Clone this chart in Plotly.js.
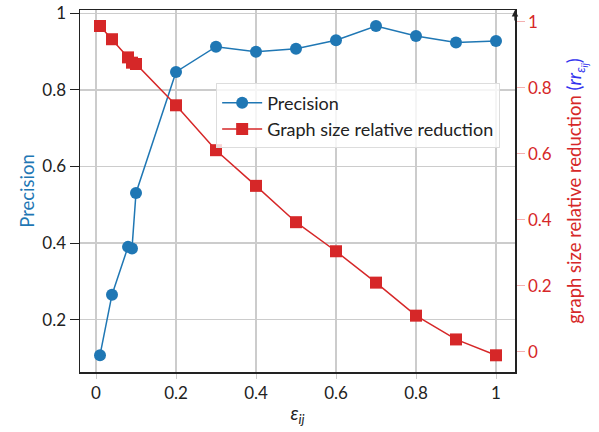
<!DOCTYPE html>
<html><head><meta charset="utf-8">
<script src="https://cdn.plot.ly/plotly-3.0.1.min.js"></script>
<style>html,body{margin:0;padding:0;background:#fff}</style>
</head><body><div id="chart" style="width:599px;height:432px"></div>
<script>
const epsilon = [0.01, 0.04, 0.08, 0.09, 0.1, 0.2, 0.3, 0.4, 0.5, 0.6, 0.7, 0.8, 0.9, 1.0];
const precision = [0.107, 0.265, 0.390, 0.386, 0.531, 0.847, 0.913, 0.900, 0.908, 0.930, 0.967, 0.941, 0.924, 0.928];
const reduction = [0.987, 0.947, 0.892, 0.876, 0.872, 0.747, 0.611, 0.503, 0.393, 0.305, 0.210, 0.110, 0.038, -0.010];
const xTicks = [0, 0.2, 0.4, 0.6, 0.8, 1];
const xTickText = ['0', '0.2', '0.4', '0.6', '0.8', '1'];
const yTicks = [0.2, 0.4, 0.6, 0.8, 1];
const yTickText = ['0.2', '0.4', '0.6', '0.8', '1'];
const y2Ticks = [0, 0.2, 0.4, 0.6, 0.8, 1];
const y2TickText = ['0', '0.2', '0.4', '0.6', '0.8', '1'];

const blue = '#1f77b4', red = '#d62728';
const font = 'Lato, "Open Sans", sans-serif';

const traces = [
  {x: epsilon, y: precision, name: 'Precision', mode: 'lines+markers',
   line: {color: blue, width: 1.5}, marker: {symbol: 'circle', size: 12, color: blue}},
  {x: epsilon, y: reduction, name: 'Graph size relative reduction', mode: 'lines+markers', yaxis: 'y2',
   line: {color: red, width: 1.5}, marker: {symbol: 'square', size: 12, color: red}}
];

const layout = {
  width: 599, height: 432,
  margin: {l: 80, r: 84, t: 10, b: 60},
  paper_bgcolor: '#fff', plot_bgcolor: '#fff',
  font: {family: font, size: 17, color: '#222'},
  showlegend: true,
  legend: {x: 0.313, y: 0.797, xanchor: 'left', yanchor: 'top', bgcolor: 'rgba(255,255,255,0.8)',
           bordercolor: '#dddddd', borderwidth: 1, font: {size: 18, color: '#222'}, tracegroupgap: 0,
           itemwidth: 40},
  xaxis: {range: [-0.04, 1.0475], tickvals: xTicks, ticktext: xTickText,
          showgrid: true, gridcolor: '#cccccc', gridwidth: 1.5,
          showline: true, linecolor: '#222', linewidth: 1.5, mirror: true,
          ticks: 'outside', ticklen: 5, tickcolor: '#cccccc', zeroline: false,
          title: {text: '<i>ε<sub>ij</sub></i>', font: {size: 19, color: '#222'}, standoff: 5}},
  yaxis: {range: [0.063, 1.009], tickvals: yTicks, ticktext: yTickText,
          showgrid: true, gridcolor: '#cccccc', gridwidth: 1.5,
          showline: true, linecolor: '#222', linewidth: 1.5,
          ticks: 'outside', ticklen: 9, tickcolor: '#222', zeroline: false,
          title: {text: 'Precision', font: {size: 18.5, color: blue}, standoff: 3}},
  yaxis2: {overlaying: 'y', side: 'right', range: [-0.0606, 1.0355], tickvals: y2Ticks, ticktext: y2TickText,
           showgrid: false, showline: true, linecolor: '#222', linewidth: 1.5,
           ticks: 'outside', ticklen: 8, tickcolor: '#f4b0b0', zeroline: false,
           tickfont: {color: red, size: 17},
           title: {text: 'graph size relative reduction <span style="color:#3333ee">(<i>rr<sub>ε<sub>ij</sub></sub></i>)</span>',
                   font: {size: 18.5, color: red}, standoff: 17}},
  annotations: [{xref: 'paper', yref: 'paper', x: 1, y: 1, ax: 0, ay: 12, text: '',
                 showarrow: true, arrowhead: 2, arrowsize: 1, arrowwidth: 1.3, arrowcolor: '#222'}]
};

Plotly.newPlot('chart', traces, layout, {displayModeBar: false, staticPlot: true});
</script></body></html>
